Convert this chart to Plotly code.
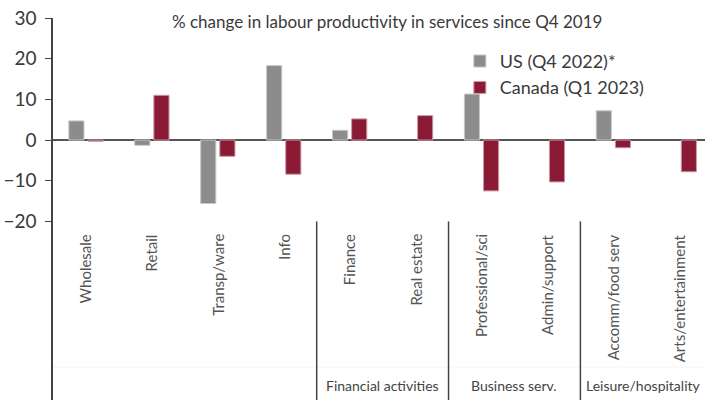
import plotly.graph_objects as go

categories = ["Wholesale", "Retail", "Transp/ware", "Info", "Finance", "Real estate",
              "Professional/sci", "Admin/support", "Accomm/food serv", "Arts/entertainment"]
us_values = [4.7, -1.3, -15.6, 18.3, 2.4, None, 11.3, None, 7.2, None]
canada_values = [-0.3, 11.0, -4.0, -8.4, 5.2, 6.0, -12.5, -10.3, -1.9, -7.8]
groups = [("Financial activities", 4.5), ("Business serv.", 6.5), ("Leisure/hospitality", 8.45)]
separators = [3.5, 5.5, 7.5]
y_ticks = [-20, -10, 0, 10, 20, 30]

FONT = "Lato"
TXT = "#3a3a3a"
x_idx = list(range(len(categories)))

fig = go.Figure()
fig.add_trace(go.Bar(x=x_idx, y=us_values, name="US (Q4 2022)*",
                     marker=dict(color="#8c8c8c", line=dict(color="#c8c8c8", width=1)),
                     width=0.23, offset=-0.26))
fig.add_trace(go.Bar(x=x_idx, y=canada_values, name="Canada (Q1 2023)",
                     marker=dict(color="#8b1a35", line=dict(color="#c79aa5", width=1)),
                     width=0.23, offset=0.03))

ann = []
for i, c in enumerate(categories):
    ann.append(dict(x=i, y=-22.6, xref="x", yref="y", text=c, textangle=-90,
                    showarrow=False, xanchor="center", yanchor="top",
                    font=dict(family=FONT, size=15, color="#555555")))
for name, xc in groups:
    ann.append(dict(x=xc, y=-60.4, xref="x", yref="y", text=name, showarrow=False,
                    xanchor="center", yanchor="middle",
                    font=dict(family=FONT, size=14, color="#444444")))
ann.append(dict(x=0.512, y=1.0, xref="paper", yref="paper", yshift=-3,
                text="% change in labour productivity in services since Q4 2019",
                showarrow=False, xanchor="center", yanchor="middle",
                font=dict(family=FONT, size=17, color=TXT)))

shapes = []
for s in separators:
    shapes.append(dict(type="line", x0=s, x1=s, y0=-20, y1=-63.9, xref="x", yref="y",
                       line=dict(color="#444444", width=1.5)))
shapes.append(dict(type="line", x0=-0.5, x1=9.39, y0=-55.8, y1=-55.8, xref="x", yref="y",
                   line=dict(color="#f4f4f4", width=1), layer="below"))

fig.update_layout(
    width=705, height=400,
    margin=dict(l=53, r=0, t=18, b=0),
    paper_bgcolor="white", plot_bgcolor="white",
    barmode="group",
    showlegend=True,
    legend=dict(x=0.624, y=0.935, xanchor="left", yanchor="top",
                font=dict(family=FONT, size=18, color=TXT),
                bgcolor="rgba(0,0,0,0)", itemwidth=30, tracegroupgap=0),
    xaxis=dict(range=[-0.5, 9.39], showticklabels=False, showgrid=False,
               zeroline=False, showline=False, ticks=""),
    yaxis=dict(range=[-63.9, 30], tickvals=y_ticks, showgrid=False,
               zeroline=True, zerolinecolor="#555555", zerolinewidth=1.5,
               showline=True, linecolor="#444444", linewidth=1.5,
               ticks="outside", ticklen=6, tickcolor="#444444",
               ticklabelstandoff=5,
               tickfont=dict(family=FONT, size=19, color=TXT)),
    annotations=ann, shapes=shapes,
)
fig.write_html("out.html")
